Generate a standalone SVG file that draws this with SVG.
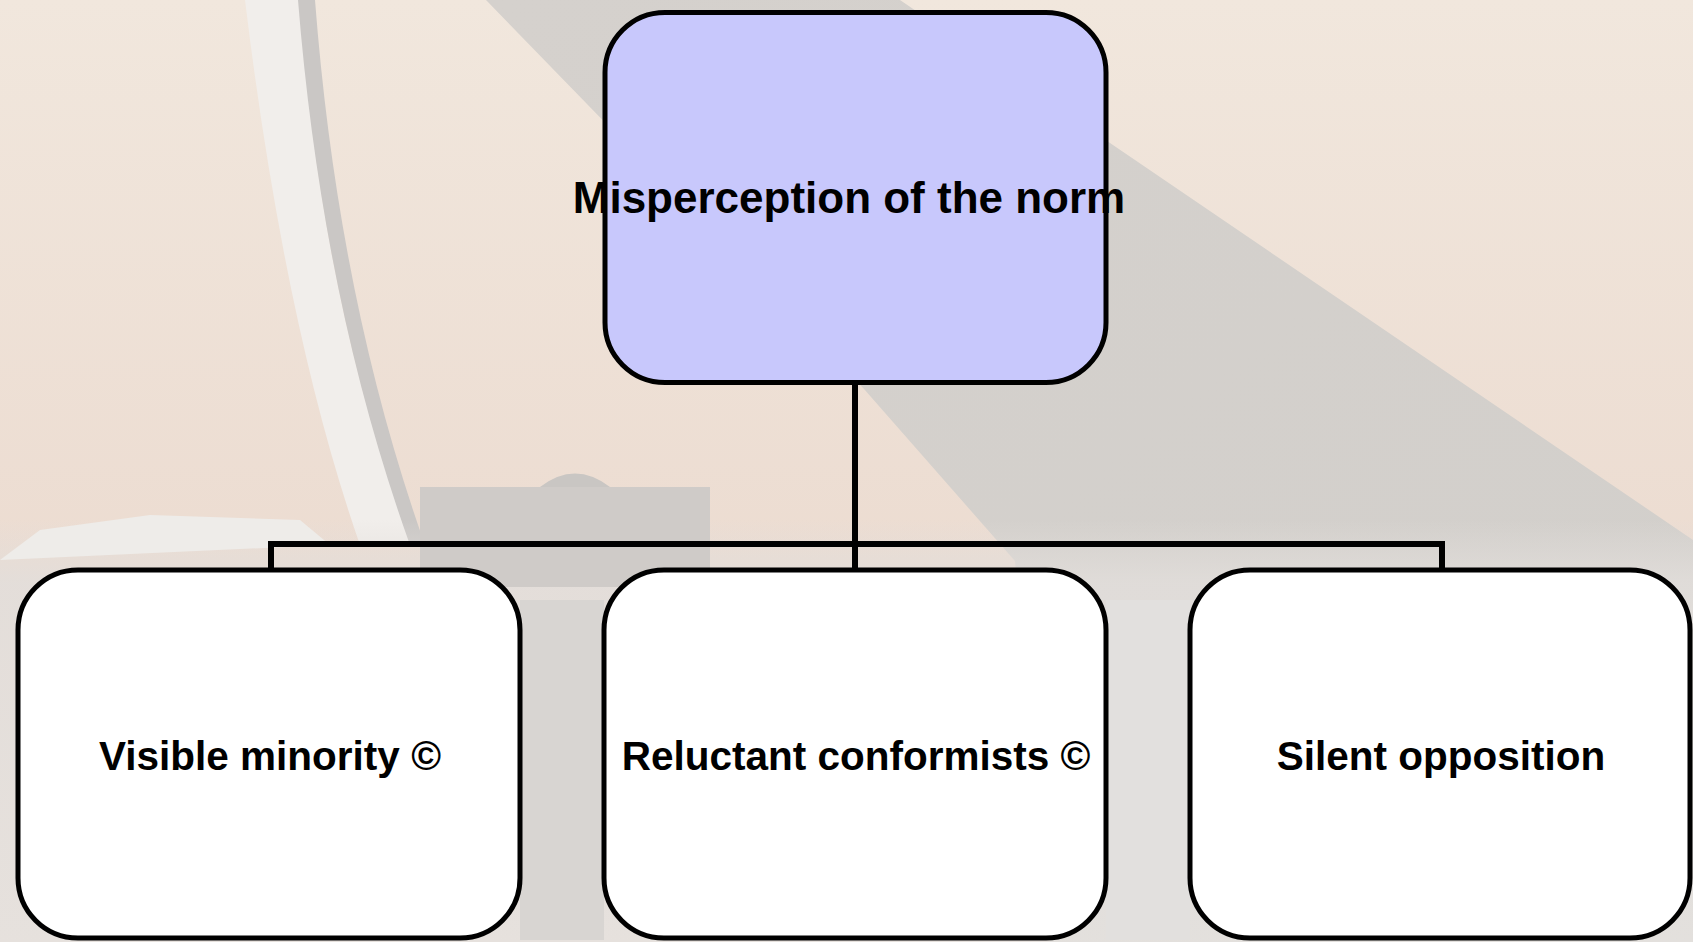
<svg xmlns="http://www.w3.org/2000/svg" width="1693" height="942" viewBox="0 0 1693 942">
  <defs>
    <linearGradient id="sky" x1="0" y1="0" x2="0" y2="1">
      <stop offset="0" stop-color="#f1e7dd"/>
      <stop offset="0.6" stop-color="#ecdcd1"/>
      <stop offset="1" stop-color="#e6d6cc"/>
    </linearGradient>
    <linearGradient id="wedge" x1="0" y1="0" x2="1" y2="1">
      <stop offset="0" stop-color="#d5d1cd"/>
      <stop offset="1" stop-color="#d2cfcb"/>
    </linearGradient>
    <linearGradient id="ground" x1="0" y1="0" x2="0" y2="1">
      <stop offset="0" stop-color="#e2dedb" stop-opacity="0"/>
      <stop offset="0.15" stop-color="#e2dedb"/>
      <stop offset="1" stop-color="#e6e3e0"/>
    </linearGradient>
    <style>
      .box { stroke: #000; stroke-width: 5; }
      .top { fill: #c8c8fc; }
      .child { fill: #ffffff; }
      .lbl { font-family: "Liberation Sans", Arial, sans-serif; font-weight: bold; fill: #000; text-anchor: middle; }
      .conn { fill: none; stroke: #000; stroke-width: 6; }
    </style>
  </defs>

  <g id="background">
    <rect x="0" y="0" width="1693" height="942" fill="url(#sky)"/>
    <polygon points="486,0 900,0 1693,540 1693,942 1050,942 1015,561 864,389" fill="url(#wedge)"/>
    <!-- arch -->
    <path d="M245,0 L300,0 Q320,300 412,545 L360,545 Q285,330 245,0 Z" fill="#f1eeeb"/>
    <path d="M298,0 L315,0 Q338,300 425,545 L410,545 Q322,300 298,0 Z" fill="#cac7c5"/>
    <!-- buildings / ground -->
    <rect x="0" y="520" width="1693" height="422" fill="url(#ground)" opacity="0.85"/>
    <path d="M40,530 L150,515 L300,520 L330,545 L0,560 Z" fill="#eeece9"/>
    <rect x="420" y="487" width="290" height="100" fill="#cfcbc8"/>
    <path d="M540,487 Q575,460 610,487 Z" fill="#c9c6c3"/>
    <rect x="520" y="600" width="84" height="340" fill="#d8d5d2"/>
    <rect x="1106" y="600" width="84" height="340" fill="#e2e0de"/>
  </g>

  <g id="connectors">
    <line class="conn" x1="855" y1="383" x2="855" y2="544"/>
    <polyline class="conn" points="271,570 271,544 1442,544 1442,570"/>
    <line class="conn" x1="855" y1="544" x2="855" y2="570"/>
  </g>

  <g id="node-top">
    <rect class="box top" x="605" y="12.5" width="501" height="370" rx="60" ry="60"/>
    <text class="lbl" x="849" y="213" font-size="44">Misperception of the norm</text>
  </g>

  <g id="node-visible-minority">
    <rect class="box child" x="18" y="570" width="502" height="368" rx="60" ry="60"/>
    <text class="lbl" x="270" y="770" font-size="40.5">Visible minority ©</text>
  </g>

  <g id="node-reluctant-conformists">
    <rect class="box child" x="604" y="570" width="502" height="368" rx="60" ry="60"/>
    <text class="lbl" x="856" y="770" font-size="40.5">Reluctant conformists ©</text>
  </g>

  <g id="node-silent-opposition">
    <rect class="box child" x="1190" y="570" width="500" height="368" rx="60" ry="60"/>
    <text class="lbl" x="1441" y="770" font-size="40.5">Silent opposition</text>
  </g>
</svg>
